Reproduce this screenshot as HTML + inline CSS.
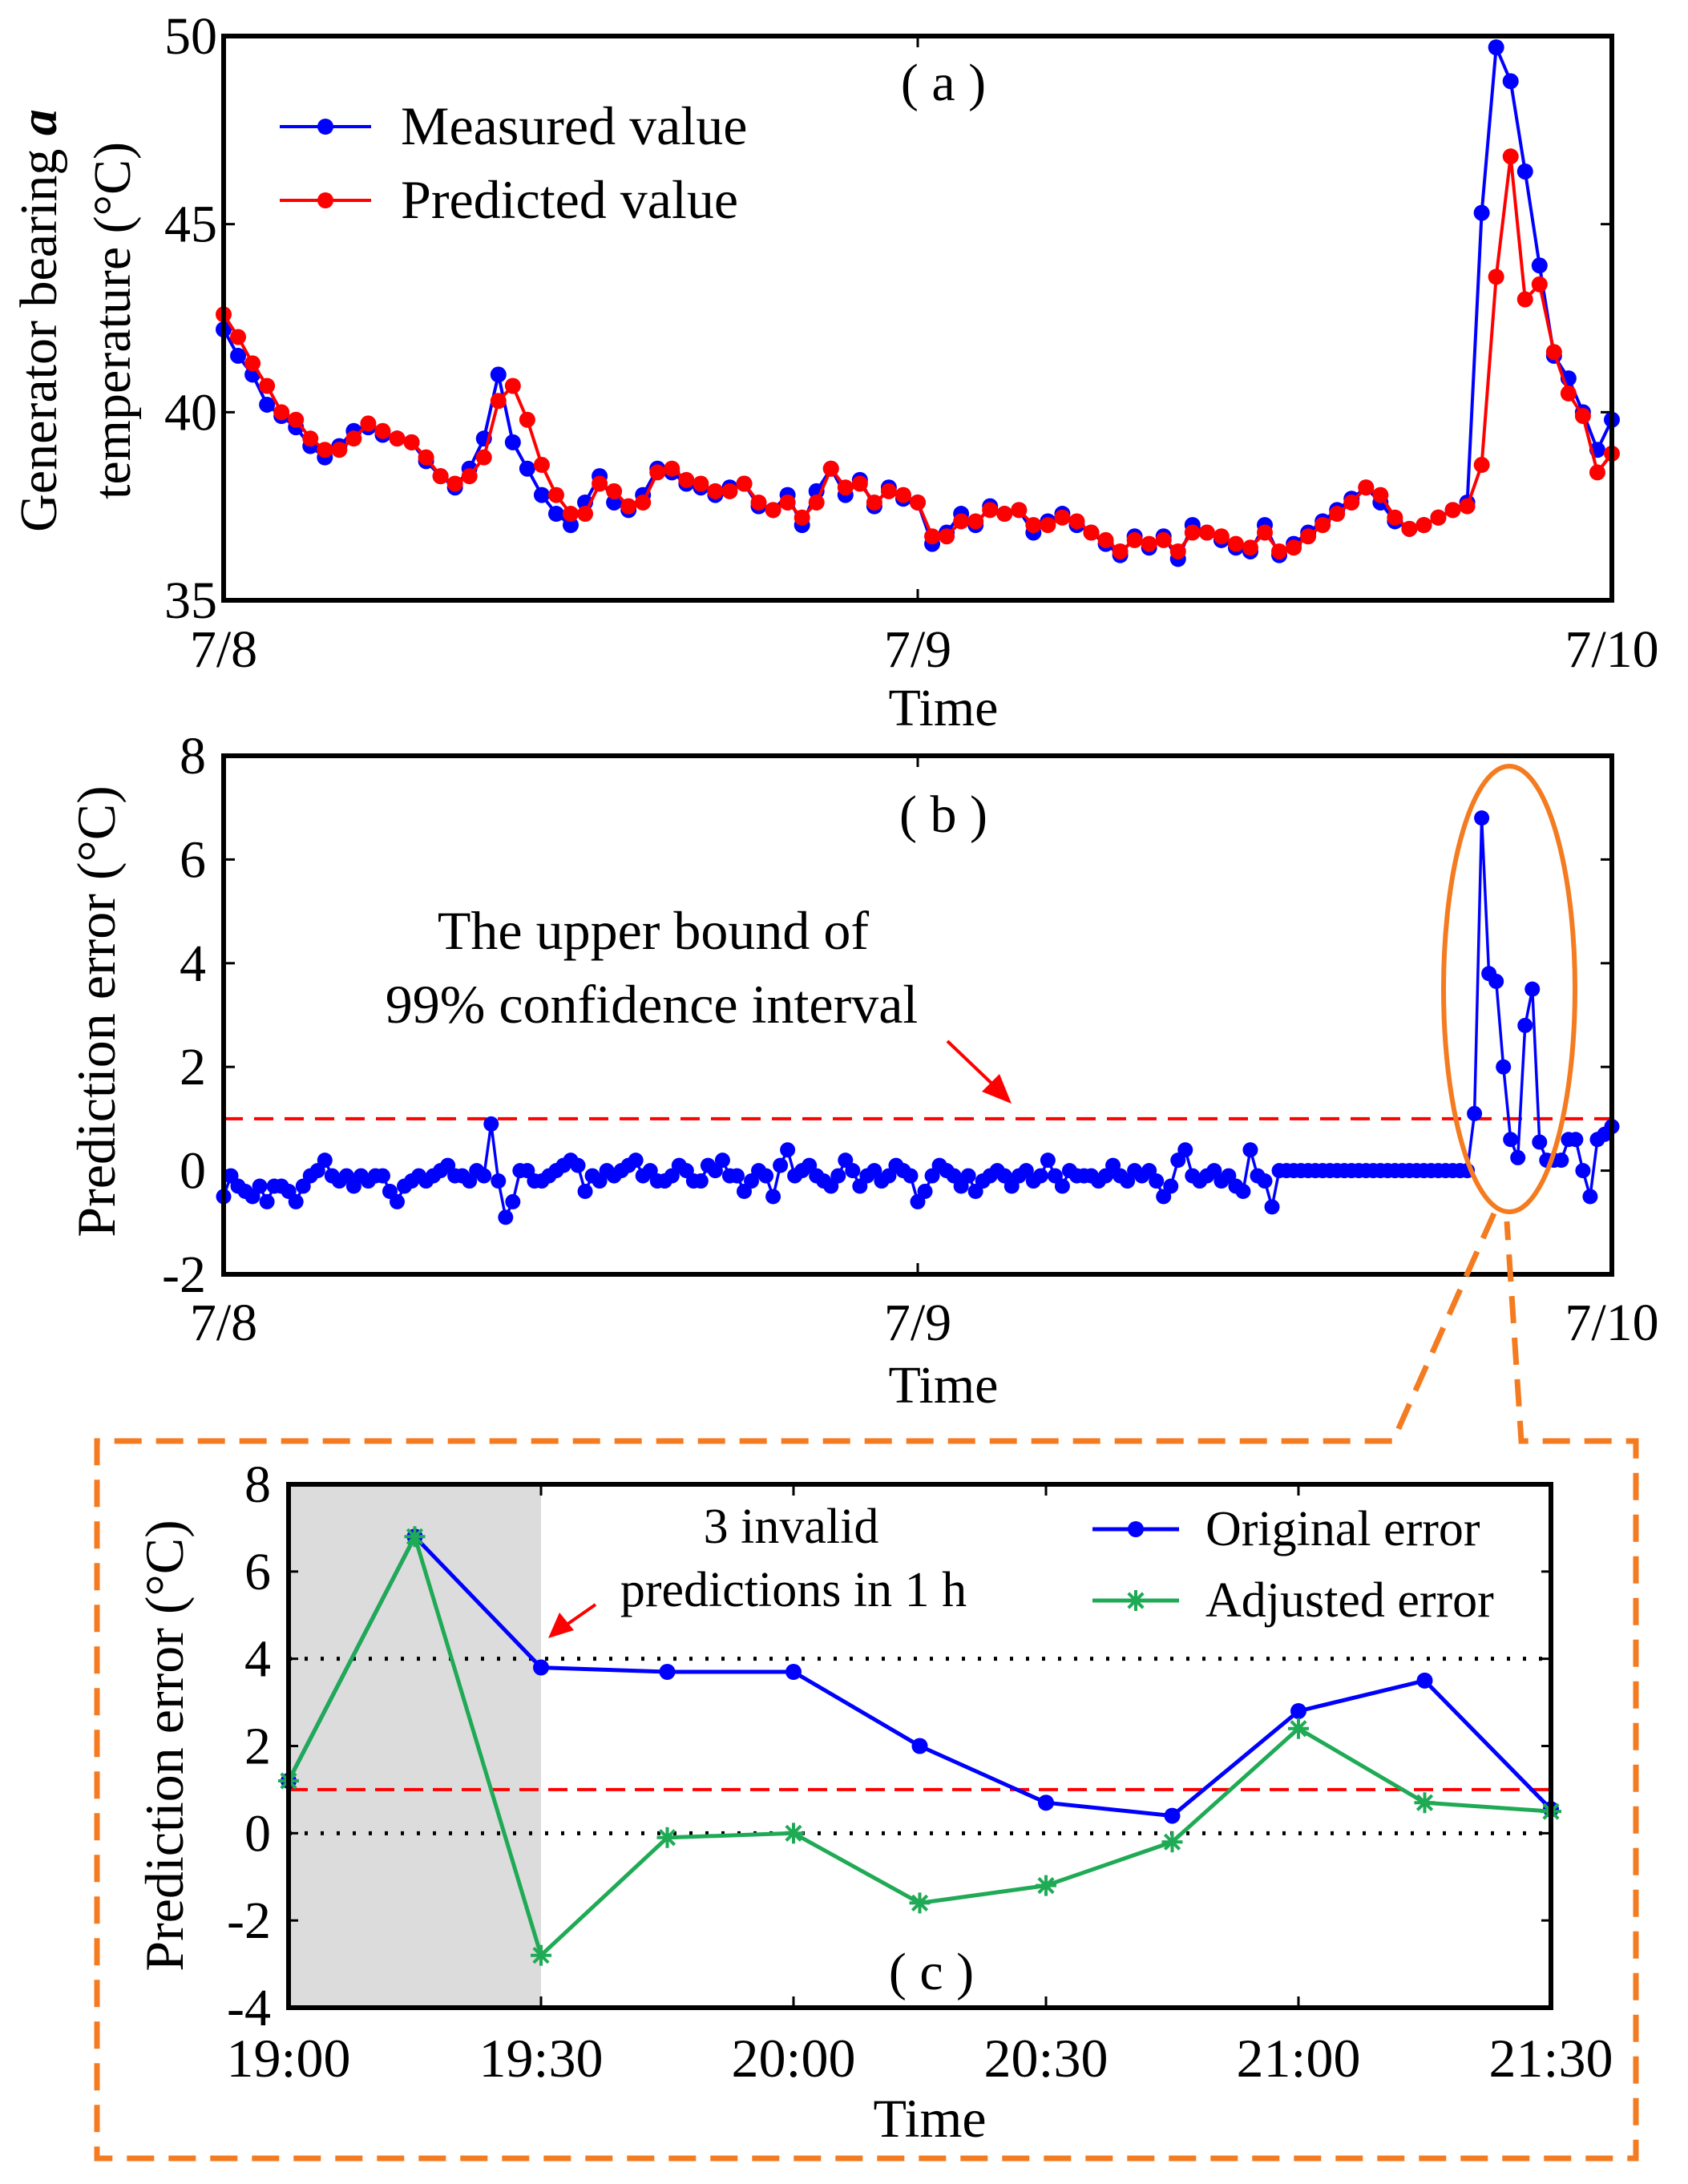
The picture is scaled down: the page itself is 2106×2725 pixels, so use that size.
<!DOCTYPE html>
<html><head><meta charset="utf-8"><style>
html,body{margin:0;padding:0;background:#fff}
svg{display:block}
text{font-family:"Liberation Serif",serif;fill:#000}
</style></head><body>
<svg id="fig" width="2106" height="2725" viewBox="0 0 2106 2725" xmlns="http://www.w3.org/2000/svg">
<g id="pa"></g>
<g id="pb"></g>
<g id="pc"></g>
<g id="ov"></g>
</svg>
<script>
// ---- Panel (a) data: 30-min steps over 48 h ----
const aDayLabels = ["7/8","7/9","7/10"];
const aYTicks = [35,40,45,50];
const measured = [42.2,41.5,41.0,40.2,39.9,39.6,39.1,38.8,39.1,
39.5,39.6,39.4,39.3,39.2,38.7,38.3,38.0,
38.5,39.3,41.0,39.2,38.5,37.8,37.3,37.0,
37.6,38.3,37.6,37.4,37.8,38.5,38.4,38.1,
38.0,37.8,38.0,38.1,37.5,37.4,37.8,37.0,
37.9,38.5,37.8,38.2,37.5,38.0,37.7,37.6,
36.5,36.8,37.3,37.0,37.5,37.3,37.4,36.8,
37.1,37.3,37.0,36.8,36.5,36.2,36.7,36.4,
36.7,36.1,37.0,36.8,36.6,36.4,36.3,37.0,
36.2,36.5,36.8,37.1,37.4,37.7,38.0,37.6,
37.1,36.9,37.0,37.2,37.4,37.6,45.3,49.7,
48.8,46.4,43.9,41.5,40.9,40.0,39.0,39.8];
const predicted = [42.6,42.0,41.3,40.7,40.0,39.8,39.3,39.0,39.0,
39.3,39.7,39.5,39.3,39.2,38.8,38.3,38.1,
38.3,38.8,40.3,40.7,39.8,38.6,37.8,37.3,
37.3,38.1,37.9,37.5,37.6,38.4,38.5,38.2,
38.1,37.9,37.9,38.1,37.6,37.4,37.6,37.2,
37.6,38.5,38.0,38.1,37.6,37.9,37.8,37.6,
36.7,36.7,37.1,37.1,37.4,37.3,37.4,37.0,
37.0,37.2,37.1,36.8,36.6,36.3,36.6,36.5,
36.6,36.3,36.8,36.8,36.7,36.5,36.4,36.8,
36.3,36.4,36.7,37.0,37.3,37.6,38.0,37.8,
37.2,36.9,37.0,37.2,37.4,37.5,38.6,43.6,
46.8,43.0,43.4,41.6,40.5,39.9,38.4,38.9];
// ---- Panel (b) data: 15-min steps ----
const bYTicks = [-2,0,2,4,6,8];
const bound = 1;
const errors = [-0.5,-0.1,-0.3,-0.4,-0.5,-0.3,-0.6,-0.3,
-0.3,-0.4,-0.6,-0.3,-0.1,0.0,0.2,-0.1,
-0.2,-0.1,-0.3,-0.1,-0.2,-0.1,-0.1,-0.4,
-0.6,-0.3,-0.2,-0.1,-0.2,-0.1,0.0,0.1,
-0.1,-0.1,-0.2,0.0,-0.1,0.9,-0.2,-0.9,
-0.6,0.0,0.0,-0.2,-0.2,-0.1,0.0,0.1,
0.2,0.1,-0.4,-0.1,-0.2,0.0,-0.1,0.0,
0.1,0.2,-0.1,0.0,-0.2,-0.2,-0.1,0.1,
0.0,-0.2,-0.2,0.1,0.0,0.2,-0.1,-0.1,
-0.4,-0.2,0.0,-0.1,-0.5,0.1,0.4,-0.1,
0.0,0.1,-0.1,-0.2,-0.3,-0.1,0.2,0.0,
-0.3,-0.1,0.0,-0.2,-0.1,0.1,0.0,-0.1,
-0.6,-0.4,-0.1,0.1,0.0,-0.1,-0.3,-0.1,
-0.4,-0.2,-0.1,0.0,-0.1,-0.3,-0.1,0.0,
-0.2,-0.1,0.2,-0.1,-0.3,0.0,-0.1,-0.1,
-0.1,-0.2,-0.1,0.1,-0.1,-0.2,0.0,-0.1,
0.0,-0.2,-0.5,-0.3,0.2,0.4,-0.1,-0.2,
-0.1,0.0,-0.2,-0.1,-0.3,-0.4,0.4,-0.1,
-0.2,-0.7,0.0,0.0,0.0,0.0,0.0,0.0,
0.0,0.0,0.0,0.0,0.0,0.0,0.0,0.0,
0.0,0.0,0.0,0.0,0.0,0.0,0.0,0.0,
0.0,0.0,0.0,0.0,0.0,1.1,6.8,3.8,
3.65,2.0,0.6,0.25,2.8,3.5,0.55,0.2,
0.2,0.2,0.6,0.6,0.0,-0.5,0.6,0.7,0.85];
// ---- Panel (c) data: 15-min steps 19:00-21:30 ----
const cTimeLabels = ["19:00","19:30","20:00","20:30","21:00","21:30"];
const cYTicks = [-4,-2,0,2,4,6,8];
const originalErr = [1.2,6.8,3.8,3.7,3.7,2.0,0.7,0.4,2.8,3.5,0.55];
const adjustedErr = [1.2,6.8,-2.8,-0.1,0.0,-1.6,-1.2,-0.2,2.4,0.7,0.5];

const NS="http://www.w3.org/2000/svg";
function mk(parent,tag,attrs,txt){const e=document.createElementNS(NS,tag);for(const k in attrs)e.setAttribute(k,attrs[k]);if(txt!==undefined)e.textContent=txt;parent.appendChild(e);return e;}
function lin(d0,d1,r0,r1){return v=>r0+(v-d0)/(d1-d0)*(r1-r0);}

function frame(g,L,R,T,B){
  const f=mk(g,'rect',{x:L,y:T,width:R-L,height:B-T,fill:'none',stroke:'#000','stroke-width':6});
  
  
}
function seriesLine(g,xs,ys,color,name,markerR,w){
  const pts=xs.map((x,i)=>x.toFixed(1)+','+ys[i].toFixed(1)).join(' ');
  const pl=mk(g,'polyline',{points:pts,fill:'none',stroke:color,'stroke-width':w||3.5,'stroke-linejoin':'round'});
  
  
  if(markerR){xs.forEach((x,i)=>{const c=mk(g,'circle',{cx:x,cy:ys[i],r:markerR,fill:color});
    
    });}
}
function star(g,x,y,color){
  const s=mk(g,'g',{stroke:color,'stroke-width':4});
  
  
  const r=13;
  for(let k=0;k<4;k++){const a=k*Math.PI/4;mk(s,'line',{x1:x-r*Math.cos(a),y1:y-r*Math.sin(a),x2:x+r*Math.cos(a),y2:y+r*Math.sin(a)});}
}

// ===== Panel a =====
(function(){
  const g=document.getElementById('pa');
  const L=279,R=2011,T=45,B=749;
  const X=lin(0,48,L,R), Y=lin(35,50,B,T);
  aYTicks.forEach(v=>{
    const t=mk(g,'text',{x:L-8,y:Y(v)+22,'text-anchor':'end','font-size':66},String(v));
    
    
    if(v>35&&v<50){mk(g,'line',{x1:L,y1:Y(v),x2:L+14,y2:Y(v),stroke:'#000','stroke-width':3});mk(g,'line',{x1:R,y1:Y(v),x2:R-14,y2:Y(v),stroke:'#000','stroke-width':3});}
  });
  aDayLabels.forEach((lab,i)=>{
    const x=X(i*24);
    const t=mk(g,'text',{x:x,y:832,'text-anchor':'middle','font-size':66},lab);
    
    
    if(i==1){mk(g,'line',{x1:x,y1:B,x2:x,y2:B-14,stroke:'#000','stroke-width':3});mk(g,'line',{x1:x,y1:T,x2:x,y2:T+14,stroke:'#000','stroke-width':3});}
  });
  const xs=measured.map((v,i)=>X(i*0.5));
  seriesLine(g,xs,measured.map(Y),'#0000ff','measured',10,4);
  seriesLine(g,predicted.map((v,i)=>X(i*0.5)),predicted.map(Y),'#ff0000','predicted',10,4);
  frame(g,L,R,T,B);
  let t=mk(g,'text',{x:1177,y:125,'text-anchor':'middle','font-size':66},'( a )');
  
  const lg=mk(g,'g',{});
  [['Measured value','#0000ff',158],['Predicted value','#ff0000',250]].forEach(([lab,c,y])=>{
    mk(lg,'line',{x1:349,y1:y,x2:463,y2:y,stroke:c,'stroke-width':4});
    mk(lg,'circle',{cx:406,cy:y,r:10,fill:c});
    const tt=mk(lg,'text',{x:500,y:y+22,'font-size':68},lab);
    
  });
  t=mk(g,'text',{x:1177,y:905,'text-anchor':'middle','font-size':66},'Time');
  
  const yt=mk(g,'g',{transform:'translate(0,400) rotate(-90)'});
  
  const t1=mk(yt,'text',{x:0,y:70,'text-anchor':'middle','font-size':66},'Generator bearing ');
  const ts=mk(t1,'tspan',{'font-style':'italic','font-weight':'bold'},'a');
  mk(yt,'text',{x:0,y:162,'text-anchor':'middle','font-size':66},'temperature (°C)');
})();

// ===== Panel b =====
(function(){
  const g=document.getElementById('pb');
  const L=279,R=2011,T=943,B=1590;
  const X=lin(0,48,L,R), Y=lin(-2,8,B,T);
  bYTicks.forEach(v=>{
    const t=mk(g,'text',{x:L-22,y:Y(v)+22,'text-anchor':'end','font-size':66},String(v));
    
    if(v>-2&&v<8){mk(g,'line',{x1:L,y1:Y(v),x2:L+14,y2:Y(v),stroke:'#000','stroke-width':3});mk(g,'line',{x1:R,y1:Y(v),x2:R-14,y2:Y(v),stroke:'#000','stroke-width':3});}
  });
  aDayLabels.forEach((lab,i)=>{
    const x=X(i*24);
    const t=mk(g,'text',{x:x,y:1672,'text-anchor':'middle','font-size':66},lab);
    
    if(i==1){mk(g,'line',{x1:x,y1:B,x2:x,y2:B-14,stroke:'#000','stroke-width':3});mk(g,'line',{x1:x,y1:T,x2:x,y2:T+14,stroke:'#000','stroke-width':3});}
  });
  const bl=mk(g,'line',{x1:L,y1:Y(bound),x2:R,y2:Y(bound),stroke:'#ff0000','stroke-width':4,'stroke-dasharray':'24 14'});
  
  seriesLine(g,errors.map((v,i)=>X(i*0.25)),errors.map(Y),'#0000ff','prediction-error',9.5,3.5);
  frame(g,L,R,T,B);
  let t=mk(g,'text',{x:1177,y:1038,'text-anchor':'middle','font-size':66},'( b )');
  
  t=mk(g,'text',{x:815,y:1184,'text-anchor':'middle','font-size':68},'The upper bound of');
  
  t=mk(g,'text',{x:813,y:1276,'text-anchor':'middle','font-size':68},'99% confidence interval');
  
  const ar=mk(g,'g',{});
  mk(ar,'line',{x1:1182,y1:1299,x2:1248,y2:1362,stroke:'#ff0000','stroke-width':4});
  mk(ar,'polygon',{points:'1262,1377 1225,1362 1247,1340',fill:'#ff0000'});
  t=mk(g,'text',{x:1177,y:1750,'text-anchor':'middle','font-size':66},'Time');
  
  t=mk(g,'text',{x:0,y:0,'text-anchor':'middle','font-size':68,transform:'translate(143,1262) rotate(-90)'},'Prediction error (°C)');
  
})();

// ===== Overlay: ellipse + dashed box =====
(function(){
  const g=document.getElementById('ov');
  const or='#f47b20';
  const e=mk(g,'ellipse',{cx:1883,cy:1234,rx:82,ry:278,fill:'none',stroke:or,'stroke-width':6});
  
  const p=mk(g,'path',{d:'M1864,1514 L1738,1798 L121,1798 L121,2693 L2041,2693 L2041,1798 L1898,1798 L1880,1524',fill:'none',stroke:or,'stroke-width':7,'stroke-dasharray':'34 18'});
  
})();

// ===== Panel c =====
(function(){
  const g=document.getElementById('pc');
  const L=360,R=1935,T=1852,B=2505;
  const X=lin(0,10,L,R), Y=lin(-4,8,B,T);
  const sh=mk(g,'rect',{x:L,y:T,width:X(2)-L,height:B-T,fill:'#dcdcdc'});
  
  [4,0].forEach(v=>{const l=mk(g,'line',{x1:L,y1:Y(v),x2:R,y2:Y(v),stroke:'#000','stroke-width':5,'stroke-dasharray':'4 16'});
    });
  const bl=mk(g,'line',{x1:L,y1:Y(bound),x2:R,y2:Y(bound),stroke:'#ff0000','stroke-width':4,'stroke-dasharray':'24 12'});
  
  cYTicks.forEach(v=>{
    const t=mk(g,'text',{x:L-22,y:Y(v)+22,'text-anchor':'end','font-size':66},String(v));
    
    if(v>-4&&v<8){mk(g,'line',{x1:L,y1:Y(v),x2:L+12,y2:Y(v),stroke:'#000','stroke-width':3});mk(g,'line',{x1:R,y1:Y(v),x2:R-12,y2:Y(v),stroke:'#000','stroke-width':3});}
  });
  cTimeLabels.forEach((lab,i)=>{
    const x=X(i*2);
    const t=mk(g,'text',{x:x,y:2591,'text-anchor':'middle','font-size':68},lab);
    
    if(i>0&&i<5){mk(g,'line',{x1:x,y1:B,x2:x,y2:B-14,stroke:'#000','stroke-width':3});mk(g,'line',{x1:x,y1:T,x2:x,y2:T+14,stroke:'#000','stroke-width':3});}
  });
  seriesLine(g,originalErr.map((v,i)=>X(i)),originalErr.map(Y),'#0000ff','original-error',10,5);
  const gx=adjustedErr.map((v,i)=>X(i)), gy=adjustedErr.map(Y);
  seriesLine(g,gx,gy,'#1faa55','adjusted-error',0,5);
  gx.forEach((x,i)=>star(g,x,gy[i],'#1faa55'));
  frame(g,L,R,T,B);
  let t=mk(g,'text',{x:1162,y:2482,'text-anchor':'middle','font-size':66},'( c )');
  
  t=mk(g,'text',{x:987,y:1925,'text-anchor':'middle','font-size':62},'3 invalid');
  
  t=mk(g,'text',{x:990,y:2004,'text-anchor':'middle','font-size':62},'predictions in 1 h');
  
  const ar=mk(g,'g',{});
  mk(ar,'line',{x1:743,y1:2002,x2:700,y2:2032,stroke:'#ff0000','stroke-width':4});
  mk(ar,'polygon',{points:'684,2044 698,2012 716,2034',fill:'#ff0000'});
  const lg=mk(g,'g',{});
  mk(lg,'line',{x1:1363,y1:1908,x2:1471,y2:1908,stroke:'#0000ff','stroke-width':5});
  mk(lg,'circle',{cx:1417,cy:1908,r:10,fill:'#0000ff'});
  t=mk(lg,'text',{x:1504,y:1928,'font-size':62},'Original error');
  
  mk(lg,'line',{x1:1363,y1:1997,x2:1471,y2:1997,stroke:'#1faa55','stroke-width':5});
  star(lg,1417,1997,'#1faa55');
  t=mk(lg,'text',{x:1504,y:2017,'font-size':62},'Adjusted error');
  
  t=mk(g,'text',{x:1160,y:2666,'text-anchor':'middle','font-size':68},'Time');
  
  t=mk(g,'text',{x:0,y:0,'text-anchor':'middle','font-size':68,transform:'translate(228,2178) rotate(-90)'},'Prediction error (°C)');
  
})();
</script>
</body></html>
